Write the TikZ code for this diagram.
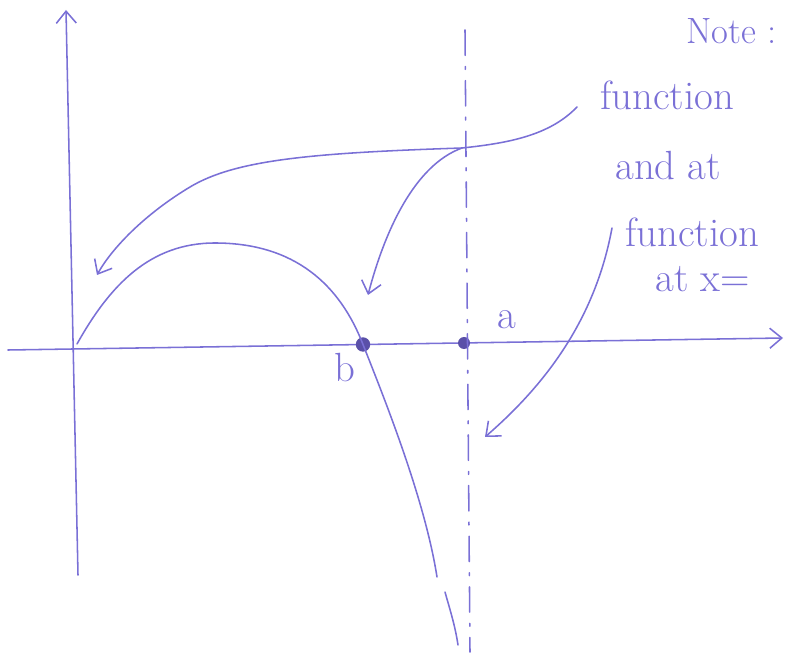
\documentclass[tikz,border=0pt]{standalone}
\usepackage{xcolor}
\usetikzlibrary{arrows.meta,positioning}
\definecolor{penblue}{HTML}{7A70D6}
\definecolor{dotblue}{HTML}{5A50A8}

\begin{document}
\begin{tikzpicture}[
  x=0.025cm,y=-0.025cm,
  >={Straight Barb[length=3mm,width=5mm]},
  pen/.style={penblue,line width=1.1pt,line cap=round},
  asymp/.style={pen,dash pattern=on 18pt off 8pt on 2pt off 8pt},
  handtext/.style={penblue,anchor=base west,inner sep=0pt,font=\fontsize{29}{32}\selectfont},
  root/.style={circle,fill=dotblue,inner sep=0pt,minimum size=3.6mm}
]
  \useasboundingbox (0,0) rectangle (785,656);
  % axes
  \coordinate (ybot) at (78,575);
  \coordinate (ytop) at (66,10);
  \coordinate (xleft) at (8,350);
  \coordinate (xright) at (783,338);
  \draw[pen,->] (ybot) -- (ytop);
  \draw[pen,->] (xleft) -- (xright);
  % roots and asymptote
  \node[root] (b) at (363,344.5) {};
  \node[root,minimum size=3mm] (a) at (464,343) {};
  \node[penblue,font=\fontsize{29}{32}\selectfont] (blabel) at (345,368) {b};
  \node[penblue,font=\fontsize{29}{32}\selectfont] (alabel) at (507,320) {a};
  \coordinate (asytop) at (465,30);
  \coordinate (asybot) at (470,652);
  \draw[asymp] (asytop) -- (asybot);
  % the function
  \coordinate (O) at (77,344);
  \coordinate (peak) at (215,243);
  \coordinate (cutA) at (437,577);
  \coordinate (cutB) at (445,592);
  \coordinate (tail) at (458,645);
  \draw[pen] (O) .. controls (110,285) and (150,243) .. (peak)
    .. controls (295,243) and (340,285) .. (b.center)
    .. controls (385,400) and (425,500) .. (cutA);
  \draw[pen] (cutB) .. controls (450,610) and (455,625) .. (tail);
  % notes
  \node[handtext,font=\fontsize{26}{30}\selectfont] (note) at (686,44) {Note :};
  \node[handtext] (fn1) at (600,110) {function};
  \node[handtext] (andat) at (615,180) {and at};
  \node[handtext] (fn2) at (625,247) {function};
  \node[handtext] (atx) at (655,292) {at x=};
  % pointers
  \coordinate (p1) at (577,107);
  \coordinate (p1mid) at (462,148);
  \coordinate (p1end) at (97,275);
  \coordinate (p2end) at (368,295);
  \coordinate (p3) at (612,228);
  \coordinate (p3end) at (485,437);
  \draw[pen] (p1) .. controls (550,135) and (510,143) .. (p1mid);
  \draw[pen,->] (p1mid) .. controls (310,153) and (235,160) .. (190,187)
    .. controls (145,214) and (112,248) .. (p1end);
  \draw[pen,->] (p1mid) .. controls (415,165) and (385,230) .. (p2end);
  \draw[pen,->] (p3) .. controls (595,320) and (545,385) .. (p3end);
\end{tikzpicture}
\end{document}
